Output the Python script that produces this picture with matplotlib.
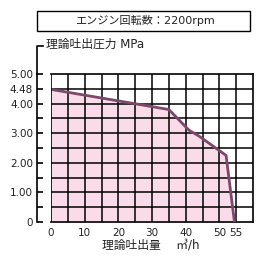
import matplotlib
matplotlib.use("Agg")
import matplotlib.pyplot as plt
from matplotlib.lines import Line2D
from matplotlib.patches import Rectangle
import numpy as np

plt.rcParams['font.family'] = ['DejaVu Sans', 'Noto Sans CJK JP']

# データ
flow = [0, 35, 41, 44, 52, 54.5]          # 理論吐出量 m3/h
pressure = [4.48, 3.80, 3.10, 2.90, 2.25, 0]  # 理論吐出圧力 MPa
x_ticks = [0, 10, 20, 30, 40, 50, 55]
y_ticks = [0, 1.00, 2.00, 3.00, 4.00, 4.48, 5.00]
y_labels = ["0", "1.00", "2.00", "3.00", "4.00", "4.48", "5.00"]
title = "エンジン回転数：2200rpm"
ylab = "理論吐出圧力 MPa"
xlab = "理論吐出量　 ㎥/h"

W = 260
fig = plt.figure(figsize=(2.6, 2.6), dpi=100)
ax = fig.add_axes([51 / W, 1 - 222 / W, 202 / W, 148 / W])

ax.fill_between(flow, pressure, 0, color='#fadbe9', zorder=1, linewidth=0)
for gx in np.arange(5, 60, 5):
    ax.axvline(gx, color='black', lw=1.1, zorder=2)
for gy in np.arange(0.5, 5, 0.5):
    ax.axhline(gy, color='black', lw=1.1, zorder=2)
ax.plot(flow, pressure, color='#7b4a6a', lw=2.0, zorder=3, solid_joinstyle='round')

ax.set_xlim(0, 60)
ax.set_ylim(0, 5)
for s in ['top', 'right', 'bottom']:
    ax.spines[s].set_linewidth(1.2)
ax.spines['left'].set_position(('outward', 10))
ax.spines['left'].set_linewidth(1.2)
ax.spines['left'].set_bounds(0, 5)

# 左側の枠線（スパインとは別）
ax.axvline(0, color='black', lw=1.2, zorder=4)

ax.set_xticks(x_ticks)
ax.set_xticklabels([str(v) for v in x_ticks])
ax.tick_params(axis='x', length=0, pad=4, labelsize=7.5, labelcolor='#222222')
ax.set_yticks(y_ticks)
ax.set_yticklabels(y_labels)
ax.set_yticks([0.5, 1.5, 2.5, 3.5], minor=True)
ax.tick_params(axis='y', which='both', direction='in', length=4.5, width=1.2, pad=3,
               labelsize=7.5, labelcolor='#222222')

# 軸の上部ブラケット
fig.add_artist(Line2D([37 / W, 37 / W, 43 / W], [1 - 74 / W, 1 - 46 / W, 1 - 46 / W],
                      color='black', lw=1.2, transform=fig.transFigure))
fig.text(46 / W, 1 - 44 / W, ylab, fontsize=8.5, va='center', ha='left', color='#222222')

# タイトル枠
fig.add_artist(Rectangle((37 / W, 1 - 31 / W), 213 / W, 20 / W, fill=False,
                         edgecolor='black', lw=1.0, transform=fig.transFigure))
fig.text(145 / W, 1 - 21 / W, title, fontsize=8, va='center', ha='center', color='#222222')

fig.text(151 / W, 1 - 245 / W, xlab, fontsize=8.5, va='center', ha='center', color='#222222')

fig.savefig("out.png", dpi=100)
